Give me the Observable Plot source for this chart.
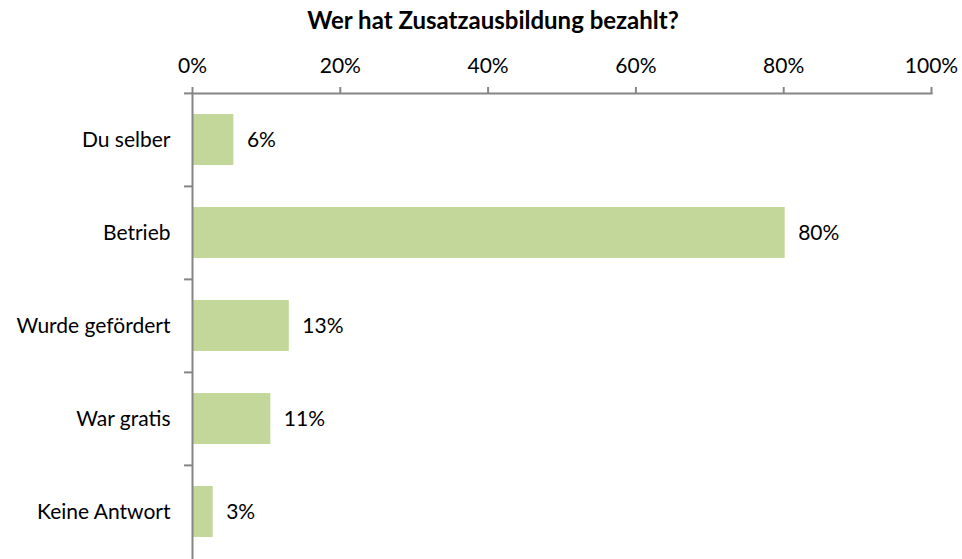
<!DOCTYPE html>
<html>
<head>
<meta charset="utf-8">
<script src="https://cdn.jsdelivr.net/npm/d3@7"></script>
<script src="https://cdn.jsdelivr.net/npm/@observablehq/plot@0.6"></script>
<style>
  body { margin: 0; background: #fff; font-family: Lato, "Open Sans", sans-serif; }
  #title { height: 40px; width: 962px; box-sizing: border-box; padding-left: 24px; text-align: center; font-weight: bold; font-size: 24px; line-height: 40px; color: #000; }
  svg { display: block; }
</style>
</head>
<body>
<div id="title">Wer hat Zusatzausbildung bezahlt?</div>
<div id="chart"></div>
<script>
const categories = ["Du selber", "Betrieb", "Wurde gefördert", "War gratis", "Keine Antwort"];
const values = [5.6, 80.2, 13.1, 10.6, 2.8];
const valueLabels = ["6%", "80%", "13%", "11%", "3%"];
const xTicks = [0, 20, 40, 60, 80, 100];

const data = categories.map((c, i) => ({category: c, value: values[i], label: valueLabels[i]}));

const W = 962, H = 519, mT = 53, mB = 0, mL = 192, mR = 31;
const step = (H - mT - mB) / categories.length;
const axisColor = "#868686";
const fs = 21;

const chart = Plot.plot({
  width: W,
  height: H,
  marginTop: mT,
  marginBottom: mB,
  marginLeft: mL,
  marginRight: mR,
  style: {fontFamily: "Lato, 'Open Sans', sans-serif", fontSize: fs + "px", color: "#000", background: "#fff"},
  x: {domain: [0, 100], axis: null, label: null},
  y: {domain: categories, paddingInner: 0.45, paddingOuter: 0.225, axis: null, label: null},
  marks: [
    Plot.barX(data, {y: "category", x: "value", fill: "#c4d79b"}),
    Plot.axisX({anchor: "top", ticks: xTicks, tickFormat: d => d + "%", tickSize: 7, tickPadding: 14, stroke: axisColor, strokeWidth: 2, fill: "#000", fontSize: fs, label: null}),
    Plot.frame({anchor: "top", stroke: axisColor, strokeWidth: 2}),
    Plot.axisY({anchor: "left", tickSize: 8, tickFormat: () => "", stroke: axisColor, strokeWidth: 2, dy: -step / 2, label: null}),
    Plot.axisY({anchor: "left", tickSize: 0, tickPadding: 22, fill: "#000", fontSize: fs, label: null}),
    Plot.ruleX([0], {stroke: axisColor, strokeWidth: 2}),
    Plot.text(data, {y: "category", x: "value", text: "label", textAnchor: "start", dx: 13, fill: "#000", fontSize: fs})
  ]
});
document.getElementById("chart").appendChild(chart);
</script>
</body>
</html>
